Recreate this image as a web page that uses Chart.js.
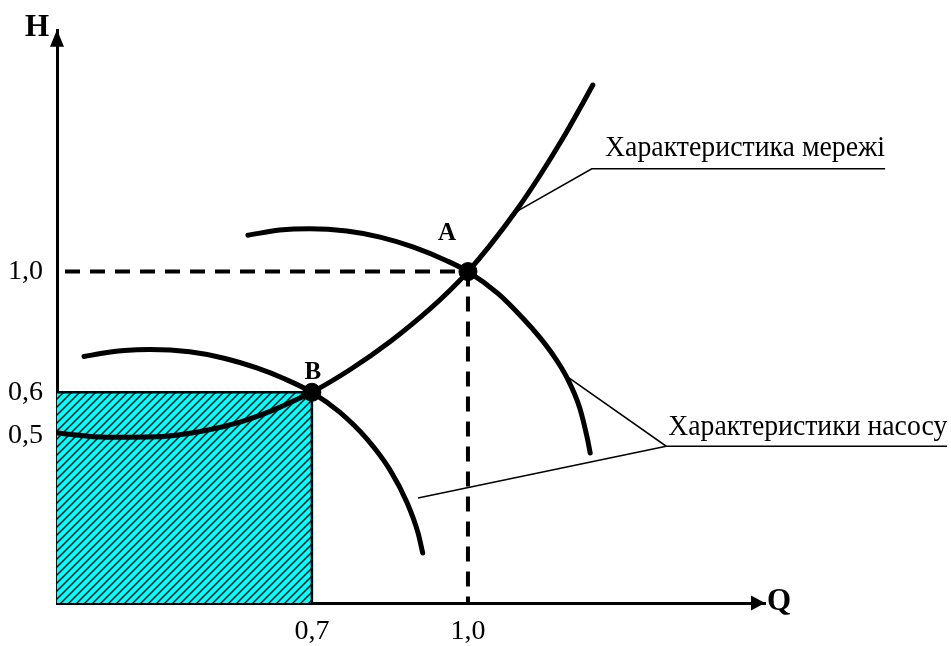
<!DOCTYPE html>
<html>
<head>
<meta charset="utf-8">
<script src="https://cdn.jsdelivr.net/npm/chart.js@4.4.1/dist/chart.umd.min.js"></script>
<style>
  html, body { margin: 0; padding: 0; background: #fff; }
  #wrap { width: 951px; height: 646px; }
</style>
</head>
<body>
<div id="wrap"><canvas id="chart" width="951" height="646"></canvas></div>
<script>
// --- Q-H diagram: network curve, two pump curves, operating points A and B ---

// axis ticks
const xTicks = [0.7, 1.0];
const xTickLabels = ['0,7', '1,0'];
const yTicks = [0.5, 0.6, 1.0];
const yTickLabels = ['0,5', '0,6', '1,0'];

// network characteristic (Характеристика мережі)
const networkQ = [0.21, 0.306, 0.402, 0.498, 0.562, 0.627, 0.671, 0.70, 0.773, 0.85, 0.927, 0.965, 1.0, 1.042, 1.094, 1.138, 1.183, 1.221, 1.240];
const networkH = [0.505, 0.496, 0.497, 0.511, 0.529, 0.557, 0.582, 0.60, 0.660, 0.743, 0.854, 0.923, 1.0, 1.116, 1.299, 1.500, 1.761, 2.041, 2.202];

// pump characteristic, nominal speed (through A)
const pumpHighQ = [0.577, 0.638, 0.696, 0.767, 0.831, 0.894, 0.960, 1.0, 1.058, 1.106, 1.138, 1.163, 1.190, 1.215, 1.229, 1.235];
const pumpHighH = [1.166, 1.192, 1.199, 1.187, 1.157, 1.110, 1.046, 1.0, 0.911, 0.820, 0.757, 0.704, 0.639, 0.561, 0.496, 0.464];

// pump characteristic, reduced speed (through B)
const pumpLowQ = [0.262, 0.306, 0.339, 0.389, 0.465, 0.531, 0.594, 0.646, 0.70, 0.754, 0.806, 0.85, 0.883, 0.904, 0.913];
const pumpLowH = [0.698, 0.710, 0.716, 0.719, 0.712, 0.693, 0.665, 0.636, 0.60, 0.551, 0.492, 0.432, 0.376, 0.331, 0.304];

// operating points
const pointNames = ['A', 'B'];
const pointQ = [1.0, 0.7];
const pointH = [1.0, 0.6];

// axis ranges (schematic, not to scale)
const Q_MIN = 0.21, Q_MAX = 1.571;
const H_MIN = 0.246, H_MAX = 2.77;

// callouts: leader lines and text anchors in data units
const callouts = [
    {
        text: 'Характеристика мережі',
        at: [1.2635, 1.632], width: 280,
        lines: [[[1.094, 1.290], [1.238, 1.545], [1.802, 1.545]]]
    },
    {
        text: 'Характеристики насосу',
        at: [1.385, 0.5004], width: 279,
        lines: [[[1.190, 0.642], [1.381, 0.4776], [1.921, 0.4776]],
                [[0.904, 0.3837], [1.381, 0.4776]]]
    }
];

const pts = (qs, hs) => qs.map((q, i) => ({ x: q, y: hs[i] }));
const SERIF = '"Liberation Serif", "Times New Roman", serif';

function hatchPattern() {
    const c = document.createElement('canvas');
    c.width = c.height = 8;
    const g = c.getContext('2d');
    g.fillStyle = '#00ffff';
    g.fillRect(0, 0, 8, 8);
    g.strokeStyle = '#000';
    g.lineWidth = 1.4;
    g.beginPath();
    g.moveTo(-2, 10); g.lineTo(10, -2);
    g.moveTo(-2, 2); g.lineTo(2, -2);
    g.moveTo(6, 10); g.lineTo(10, 6);
    g.stroke();
    return g.createPattern(c, 'repeat');
}

const curve = (data, order) => ({
    data, order,
    borderColor: '#000', borderWidth: 5, borderCapStyle: 'round',
    cubicInterpolationMode: 'monotone', pointRadius: 0, fill: false
});

// arrows, axis names, point names and callouts
const decor = {
    id: 'decor',
    afterDraw(chart) {
        const { ctx, chartArea: a, scales: { x, y } } = chart;
        const px = q => x.getPixelForValue(q);
        const py = h => y.getPixelForValue(h);
        ctx.save();
        ctx.fillStyle = '#000';
        ctx.strokeStyle = '#000';

        // arrowheads
        ctx.beginPath();
        ctx.moveTo(a.left, a.top - 1);
        ctx.lineTo(a.left - 7, a.top + 16);
        ctx.lineTo(a.left + 7, a.top + 16);
        ctx.closePath();
        ctx.fill();
        ctx.beginPath();
        ctx.moveTo(a.right, a.bottom);
        ctx.lineTo(a.right - 14, a.bottom - 7.5);
        ctx.lineTo(a.right - 14, a.bottom + 7.5);
        ctx.closePath();
        ctx.fill();

        // axis names
        ctx.font = 'bold 31px ' + SERIF;
        ctx.textBaseline = 'alphabetic';
        ctx.textAlign = 'right';
        ctx.fillText('H', a.left - 8, a.top + 5);
        ctx.textAlign = 'left';
        ctx.fillText('Q', a.right + 2, a.bottom + 7);

        // point names
        ctx.font = 'bold 25px ' + SERIF;
        ctx.textAlign = 'center';
        const offs = [[-21, -32], [1, -13]];
        pointNames.forEach((n, i) => {
            ctx.fillText(n, px(pointQ[i]) + offs[i][0], py(pointH[i]) + offs[i][1]);
        });

        // callouts
        ctx.lineWidth = 1.6;
        ctx.textAlign = 'left';
        ctx.font = '30px ' + SERIF;
        callouts.forEach(c => {
            c.lines.forEach(line => {
                ctx.beginPath();
                line.forEach(([q, h], i) => i ? ctx.lineTo(px(q), py(h)) : ctx.moveTo(px(q), py(h)));
                ctx.stroke();
            });
            ctx.fillText(c.text, px(c.at[0]), py(c.at[1]), c.width);
        });
        ctx.restore();
    }
};

new Chart(document.getElementById('chart'), {
    type: 'line',
    data: {
        datasets: [
            { data: pts(pointQ, pointH), showLine: false, pointRadius: 9, pointHoverRadius: 9,
              pointBackgroundColor: '#000', pointBorderColor: '#000', order: 0 },
            curve(pts(networkQ, networkH), 1),
            curve(pts(pumpHighQ, pumpHighH), 2),
            curve(pts(pumpLowQ, pumpLowH), 3),
            { data: [{ x: Q_MIN, y: pointH[0] }, { x: pointQ[0], y: pointH[0] }], order: 4,
              borderColor: '#000', borderWidth: 4, borderDash: [15, 10], borderDashOffset: 17,
              pointRadius: 0, fill: false, tension: 0 },
            { data: [{ x: pointQ[0], y: pointH[0] }, { x: pointQ[0], y: H_MIN }], order: 4,
              borderColor: '#000', borderWidth: 4, borderDash: [15, 10],
              pointRadius: 0, fill: false, tension: 0 },
            { data: [{ x: Q_MIN, y: pointH[1] }, { x: pointQ[1], y: pointH[1] }, { x: pointQ[1], y: H_MIN }],
              order: 5, borderColor: '#000', borderWidth: 2.5, backgroundColor: hatchPattern(),
              fill: 'start', pointRadius: 0, tension: 0 }
        ]
    },
    options: {
        responsive: false,
        animation: false,
        devicePixelRatio: 1,
        layout: { padding: { top: 30, right: 186, left: 0, bottom: 0 } },
        plugins: { legend: { display: false }, tooltip: { enabled: false } },
        scales: {
            x: {
                type: 'linear', min: Q_MIN, max: Q_MAX, bounds: 'data',
                grid: { display: false, drawTicks: false },
                border: { display: true, color: '#000', width: 3 },
                ticks: { color: '#000', padding: 12, autoSkip: false, maxRotation: 0,
                         font: { family: SERIF, size: 28 },
                         callback: (v, i) => xTickLabels[i] },
                afterBuildTicks: s => { s.ticks = xTicks.map(v => ({ value: v })); },
                afterFit: s => { s.height = 43; }
            },
            y: {
                type: 'logarithmic', min: H_MIN, max: H_MAX, bounds: 'data',
                grid: { display: false, drawTicks: false },
                border: { display: true, color: '#000', width: 3 },
                ticks: { color: '#000', padding: 14, autoSkip: false,
                         font: { family: SERIF, size: 28 },
                         callback: (v, i) => yTickLabels[i] },
                afterBuildTicks: s => { s.ticks = yTicks.map(v => ({ value: v })); },
                afterFit: s => { s.width = 57; }
            }
        }
    },
    plugins: [decor]
});
</script>
</body>
</html>
